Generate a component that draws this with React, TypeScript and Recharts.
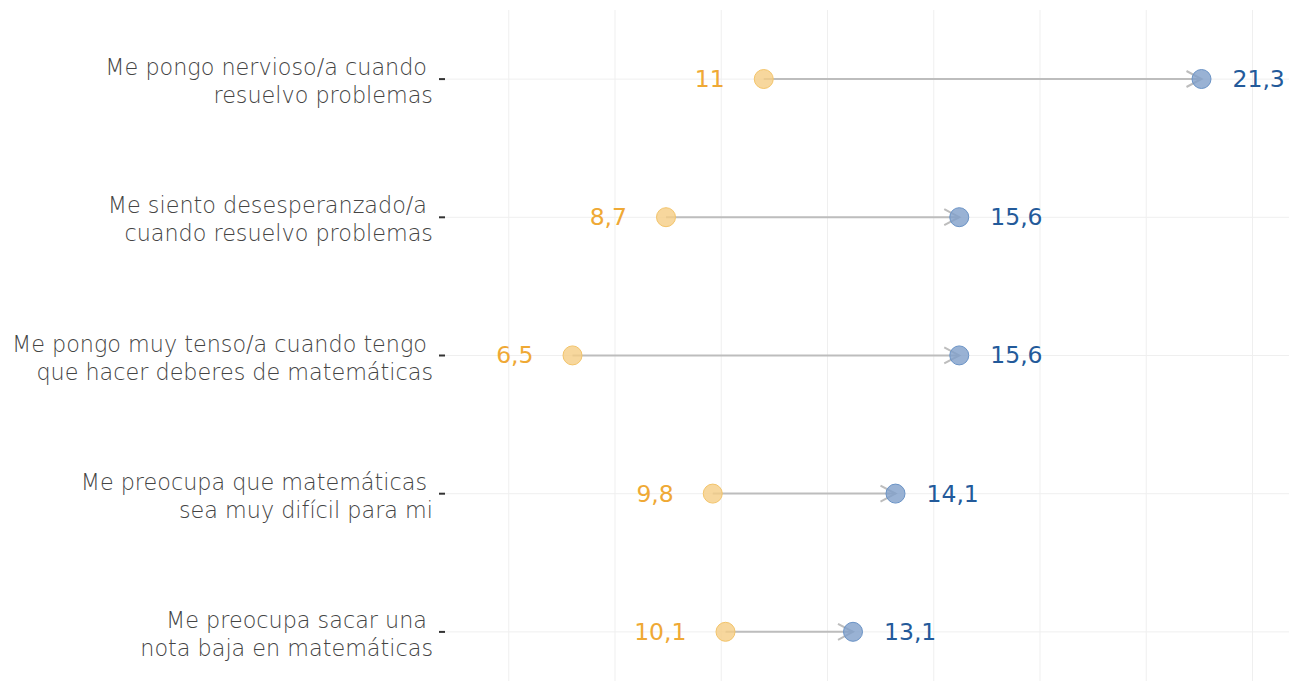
import { ComposedChart, Bar, XAxis, YAxis, CartesianGrid } from "recharts";

const categories = [
  "Me pongo nervioso/a cuando\nresuelvo problemas",
  "Me siento desesperanzado/a\ncuando resuelvo problemas",
  "Me pongo muy tenso/a cuando tengo\nque hacer deberes de matemáticas",
  "Me preocupa que matemáticas\nsea muy difícil para mi",
  "Me preocupa sacar una\nnota baja en matemáticas",
];
const before = [11, 8.7, 6.5, 9.8, 10.1];
const after = [21.3, 15.6, 15.6, 14.1, 13.1];
const xTicks = [5, 7.5, 10, 12.5, 15, 17.5, 20, 22.5];

const data = categories.map((name, i) => ({
  name,
  before: before[i],
  after: after[i],
  range: [before[i], after[i]],
}));

const ORANGE = "#efa935";
const BLUE = "#235a9a";
const FONT = "'DejaVu Sans', sans-serif";

const fmt = (v: number) => String(v).replace(".", ",");

function CategoryTick(props: any) {
  const { x, y, payload } = props;
  const lines = String(payload.value).split("\n");
  return (
    <g>
      <text
        x={x - 10}
        y={y - 12}
        textAnchor="end"
        dominantBaseline="central"
        fill="#444"
        fontFamily={FONT}
        fontWeight={300}
        fontSize={22.3}
      >
        {lines[0]}
      </text>
      <text
        x={x - 4}
        y={y + 16}
        textAnchor="end"
        dominantBaseline="central"
        fill="#444"
        fontFamily={FONT}
        fontWeight={300}
        fontSize={22.3}
      >
        {lines[1]}
      </text>
    </g>
  );
}

function Dumbbell(props: any) {
  const { x, y, width, height, payload } = props;
  const cy = y + height / 2;
  const x1 = x;
  const x2 = x + width;
  return (
    <g>
      <line x1={x1} y1={cy} x2={x2} y2={cy} stroke="#bdbdbd" strokeWidth={2} />
      <polyline
        points={`${x2 - 15},${cy - 8} ${x2},${cy} ${x2 - 15},${cy + 8}`}
        fill="none"
        stroke="#bdbdbd"
        strokeWidth={2}
      />
      <circle cx={x1} cy={cy} r={9.5} fill="#f5cd85" fillOpacity={0.8} stroke="#f3c46a" strokeWidth={1} />
      <circle cx={x2} cy={cy} r={9.5} fill="#7f9fc9" fillOpacity={0.8} stroke="#6a93c6" strokeWidth={1} />
      <text
        x={x1 - 39}
        y={cy}
        textAnchor="end"
        dominantBaseline="central"
        fill={ORANGE}
        fontFamily={FONT}
        fontSize={23.5}
      >
        {fmt(payload.before)}
      </text>
      <text
        x={x2 + 31}
        y={cy}
        textAnchor="start"
        dominantBaseline="central"
        fill={BLUE}
        fontFamily={FONT}
        fontSize={23.5}
      >
        {fmt(payload.after)}
      </text>
    </g>
  );
}

const EmptyTick = () => <g />;

export default function App() {
  return (
    <ComposedChart
      width={1289}
      height={693}
      data={data}
      layout="vertical"
      margin={{ top: 2, right: 2, bottom: 0, left: 0 }}
    >
      <CartesianGrid stroke="#efefef" strokeWidth={1} syncWithTicks />
      <XAxis
        type="number"
        domain={[3.5, 23.5]}
        ticks={xTicks}
        allowDataOverflow
        tick={EmptyTick}
        tickLine={false}
        axisLine={false}
        height={0}
      />
      <YAxis
        type="category"
        dataKey="name"
        width={437}
        axisLine={false}
        tickSize={6}
        tickLine={{ stroke: "#333", strokeWidth: 2 }}
        tick={<CategoryTick />}
        interval={0}
      />
      <Bar dataKey="range" barSize={20} shape={<Dumbbell />} isAnimationActive={false} />
    </ComposedChart>
  );
}
